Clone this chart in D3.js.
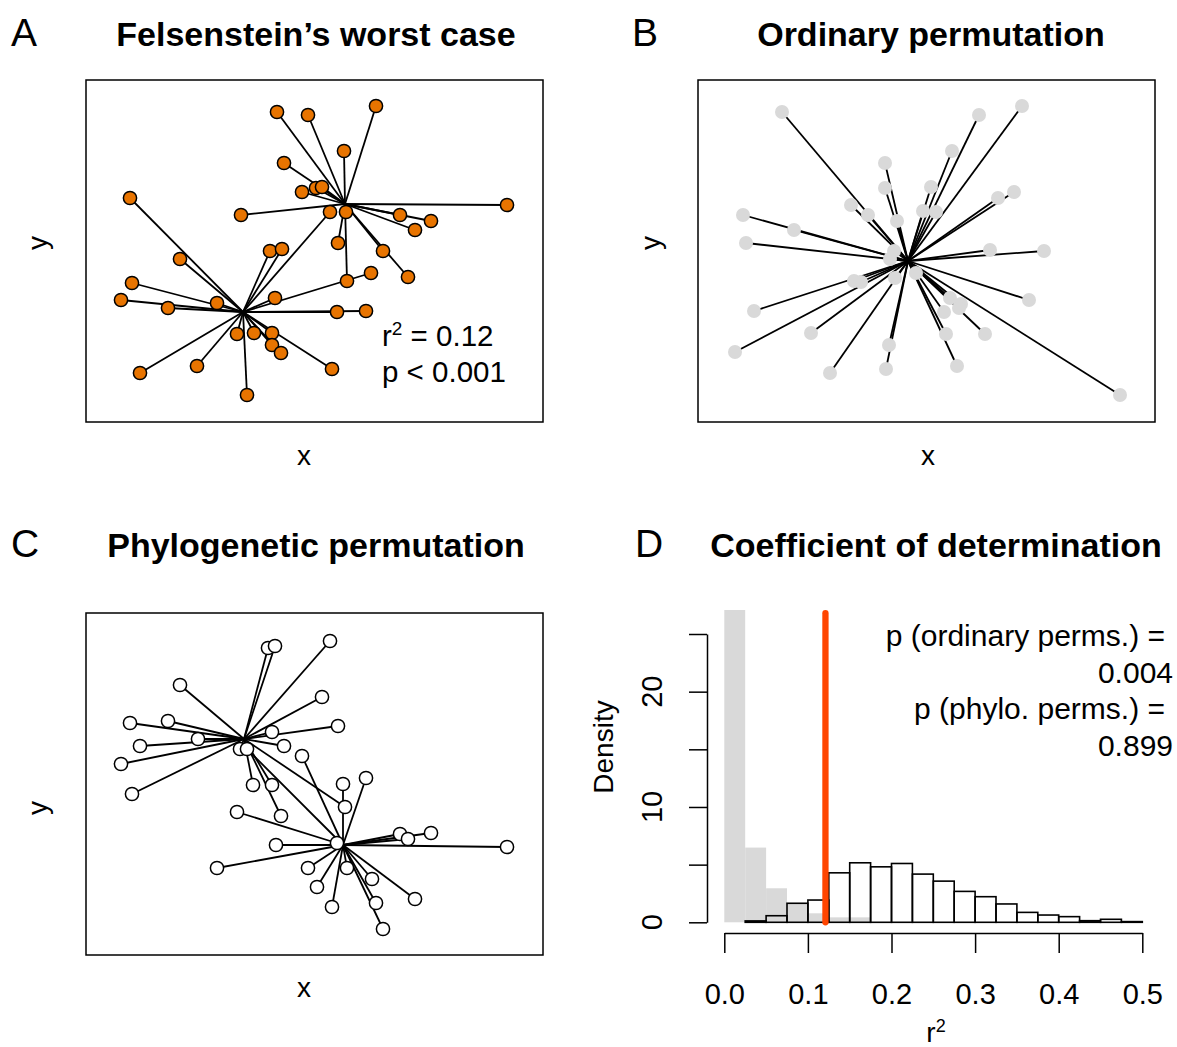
<!DOCTYPE html>
<html>
<head>
<meta charset="utf-8">
<script src="https://cdn.jsdelivr.net/npm/d3@7"></script>
<style>
  body { margin: 0; background: #fff; }
  text { font-family: "Liberation Sans", Arial, Helvetica, sans-serif; fill: #000; }
</style>
</head>
<body>
<div id="chart"></div>
<script>
// ---- panel A: Felsenstein's worst case (two clades, star trees) ----
var aHubX = [26.0, 15.8];
var aHubY = [22.0, 11.2];
var aX = [19.2,22.3,29.1,25.9,19.9,21.7,23.1,23.7,15.6,26.1,42.2,31.5,34.6,33.0,25.3,29.8,32.3,26.2,
          24.5,4.5,9.5,4.7,3.6,8.3,13.2,19.0,18.5,19.7,25.2,28.1,28.6,15.2,16.9,18.7,18.7,19.6,24.7,11.2,5.5,16.2];
var aY = [31.2,30.9,31.8,27.3,26.1,23.2,23.6,23.7,20.9,21.2,21.9,20.9,20.3,19.4,18.1,17.3,14.7,14.3,
          21.2,22.6,16.5,14.1,12.4,11.6,12.1,12.6,17.3,17.5,11.2,11.3,15.1,9.0,9.1,9.1,7.9,7.1,5.5,5.8,5.1,2.9];
var aClade = [0,0,0,0,0,0,0,0,0,0,0,0,0,0,0,0,0,0,
              1,1,1,1,1,1,1,1,1,1,1,1,1,1,1,1,1,1,1,1,1,1];

// ---- panel B: ordinary permutation (one star) ----
var bHubX = [21.1];
var bHubY = [16.3];
var bX = [8.5,28.2,32.5,25.5,18.8,18.8,23.4,30.1,31.7,15.4,17.1,20.0,22.6,23.9,4.6,9.7,4.9,29.3,34.7,19.7,
          19.3,21.9,19.8,15.7,16.4,33.2,25.3,26.4,26.2,24.7,5.7,11.4,3.8,24.9,28.8,19.2,18.9,13.3,26.0,42.3];
var bY = [31.2,30.9,31.8,27.3,26.1,23.6,23.7,22.6,23.2,21.9,20.9,20.3,21.3,21.2,20.9,19.4,18.1,17.4,17.3,17.3,
          16.5,15.1,14.6,14.3,14.2,12.4,12.6,12.0,11.6,11.2,11.3,9.1,7.2,9.0,9.0,7.9,5.5,5.1,5.8,2.9];
var bClade = bX.map(function(){ return 0; });

// ---- panel C: phylogenetic permutation ----
var cHubX = [15.9, 25.8];
var cHubY = [21.8, 11.2];
var cX = [18.3,19.0,24.5,9.5,23.7,25.3,4.5,8.3,11.3,5.5,3.6,4.7,18.7,15.5,19.9,16.8,18.7,19.6,26.0,
          16.2,21.7,25.8,28.1,15.2,19.1,25.2,31.5,32.3,34.6,42.2,13.2,22.3,26.2,28.7,23.2,24.7,29.1,29.8,33.0];
var cY = [30.9,31.1,31.6,27.2,26.0,23.1,23.4,23.6,21.8,21.1,19.3,16.3,22.5,20.8,21.1,17.2,17.2,14.1,15.0,
          20.8,20.1,17.3,17.9,14.5,11.2,11.4,12.3,11.8,12.4,11.0,8.9,8.9,8.9,7.8,7.0,5.0,5.4,2.8,5.8];
var cClade = [0,0,0,0,0,0,0,0,0,0,0,0,0,0,0,0,0,0,0,
              1,1,1,1,1,1,1,1,1,1,1,1,1,1,1,1,1,1,1,1];

// ---- panel D: r^2 histograms (bin width 0.025 starting at 0) ----
var binWidth = 0.025;
var phyloDensity = [0,0.12,0.57,1.65,1.93,4.29,5.16,4.81,5.1,4.18,3.57,2.68,2.22,1.59,0.86,0.63,0.49,0.14,0.26,0.06,0];
var ordinaryDensity = [27.4,6.48,2.95,1.6,0.78,0.43,0.43];
var observedR2 = 0.121;
var yTicks = [0,5,10,15,20,25];
var xTicks = [0,0.1,0.2,0.3,0.4,0.5];
var pLines = ["p (ordinary perms.) =", "0.004", "p (phylo. perms.) =", "0.899"];

var svg = d3.select("#chart").append("svg")
  .attr("width", 1177)
  .attr("height", 1047);

// scales for the scatter panels (plot units, no axes drawn)
var sx = d3.scaleLinear().domain([0, 46]).range([0, 460]);
var sy = d3.scaleLinear().domain([0, 34.5]).range([345, 0]);

function drawStar(ox, oy, xs, ys, clade, hx, hy, fill, stroke) {
  var g = svg.append("g").attr("transform", "translate(" + ox + "," + oy + ")");

  g.append("rect")
    .attr("x", 1).attr("y", 1)
    .attr("width", 457).attr("height", 342)
    .attr("fill", "none").attr("stroke", "#000").attr("stroke-width", 1.5);

  var idx = d3.range(xs.length);

  // branch from each tip to its clade centre
  g.selectAll("line.br").data(idx).enter().append("line")
    .attr("x1", function(i){ return sx(hx[clade[i]]); })
    .attr("y1", function(i){ return sy(hy[clade[i]]); })
    .attr("x2", function(i){ return sx(xs[i]); })
    .attr("y2", function(i){ return sy(ys[i]); })
    .attr("stroke", "#000")
    .attr("stroke-width", 1.8);

  g.selectAll("circle").data(idx).enter().append("circle")
    .attr("cx", function(i){ return sx(xs[i]); })
    .attr("cy", function(i){ return sy(ys[i]); })
    .attr("r", stroke ? 6.6 : 7)
    .attr("fill", fill)
    .attr("stroke", stroke ? "#000" : "none")
    .attr("stroke-width", 1.5);
}

drawStar(85, 79, aX, aY, aClade, aHubX, aHubY, "#E87400", true);
drawStar(697, 79, bX, bY, bClade, bHubX, bHubY, "#D9D9D9", false);
drawStar(85, 612, cX, cY, cClade, cHubX, cHubY, "#FFFFFF", true);

// titles and panel letters
var titles = [
  {t: "Felsenstein\u2019s worst case", x: 316, y: 46, l: "A", lx: 11},
  {t: "Ordinary permutation", x: 931, y: 46, l: "B", lx: 632},
  {t: "Phylogenetic permutation", x: 316, y: 557, l: "C", lx: 11},
  {t: "Coefficient of determination", x: 936, y: 557, l: "D", lx: 635}
];
titles.forEach(function(d){
  svg.append("text").attr("x", d.x).attr("y", d.y)
    .attr("text-anchor", "middle")
    .style("font-size", "34px").style("font-weight", "bold")
    .text(d.t);
  svg.append("text").attr("x", d.lx).attr("y", d.y)
    .style("font-size", "39px")
    .text(d.l);
});

// x / y axis labels on scatter panels
[[304, 465, 47, 243], [928, 465, 660, 243], [304, 997, 47, 808]].forEach(function(p){
  svg.append("text").attr("x", p[0]).attr("y", p[1])
    .attr("text-anchor", "middle").style("font-size", "28px").text("x");
  svg.append("text").attr("transform", "translate(" + p[2] + "," + p[3] + ") rotate(-90)")
    .attr("text-anchor", "middle").style("font-size", "28px").text("y");
});

// r2 annotation on A
var ann = svg.append("text").attr("x", 382).attr("y", 346).style("font-size", "29.5px");
ann.append("tspan").text("r");
ann.append("tspan").attr("dy", -11).style("font-size", "19px").text("2");
ann.append("tspan").attr("dy", 11).text(" = 0.12");
svg.append("text").attr("x", 382).attr("y", 382).style("font-size", "29.5px").text("p < 0.001");

// ---- histogram panel ----
var hx = d3.scaleLinear().domain([0, 0.5]).range([724.3, 1142.3]);
var hy = d3.scaleLinear().domain([0, 25]).range([922.3, 634]);

svg.append("clipPath").attr("id", "plotclip")
  .append("rect").attr("x", 700).attr("y", 610).attr("width", 470).attr("height", 330);

var hg = svg.append("g").attr("clip-path", "url(#plotclip)");

hg.selectAll("rect.ord").data(ordinaryDensity).enter().append("rect")
  .attr("x", function(d, i){ return hx(i * binWidth); })
  .attr("width", function(d, i){ return hx((i + 1) * binWidth) - hx(i * binWidth); })
  .attr("y", function(d){ return hy(d); })
  .attr("height", function(d){ return hy(0) - hy(d); })
  .attr("fill", "#D9D9D9");

hg.selectAll("rect.phy").data(phyloDensity).enter().append("rect")
  .attr("x", function(d, i){ return hx(i * binWidth); })
  .attr("width", function(d, i){ return hx((i + 1) * binWidth) - hx(i * binWidth); })
  .attr("y", function(d){ return hy(d); })
  .attr("height", function(d){ return hy(0) - hy(d); })
  .attr("fill", "none")
  .attr("stroke", "#000")
  .attr("stroke-width", 1.6);

svg.append("line")
  .attr("x1", hx(observedR2)).attr("x2", hx(observedR2))
  .attr("y1", hy(0)).attr("y2", hy(26.8))
  .attr("stroke", "#FF4500")
  .attr("stroke-width", 6.3)
  .attr("stroke-linecap", "round");

// y axis
var yAxis = svg.append("g")
  .attr("transform", "translate(707,0)")
  .call(d3.axisLeft(hy).tickValues(yTicks).tickSize(18).tickSizeOuter(0).tickFormat(""));
yAxis.selectAll("path, line").attr("stroke", "#000").attr("stroke-width", 1.5);

svg.selectAll("text.ylab").data(yTicks.filter(function(d){ return d % 10 === 0; })).enter().append("text")
  .attr("transform", function(d){ return "translate(662," + hy(d) + ") rotate(-90)"; })
  .attr("text-anchor", "middle")
  .style("font-size", "29px")
  .text(function(d){ return d; });

svg.append("text").attr("transform", "translate(613,747) rotate(-90)")
  .attr("text-anchor", "middle").style("font-size", "28px").text("Density");

// x axis
var xAxis = svg.append("g")
  .attr("transform", "translate(0,933)")
  .call(d3.axisBottom(hx).tickValues(xTicks).tickSize(20).tickSizeOuter(0).tickPadding(30)
    .tickFormat(d3.format(".1f")));
xAxis.selectAll("path, line").attr("stroke", "#000").attr("stroke-width", 1.5);
xAxis.selectAll("text").style("font-size", "29px")
  .style("font-family", "'Liberation Sans', Arial, sans-serif").attr("fill", "#000");

var xl = svg.append("text").attr("x", 936).attr("y", 1042)
  .attr("text-anchor", "middle").style("font-size", "28px");
xl.append("tspan").text("r");
xl.append("tspan").attr("dy", -10).style("font-size", "18px").text("2");

// p-value text
svg.selectAll("text.pv").data(pLines).enter().append("text")
  .attr("x", function(d, i){ return i % 2 === 0 ? 1165 : 1173; })
  .attr("y", function(d, i){ return 646 + i * 36.5; })
  .attr("text-anchor", "end")
  .style("font-size", "30px")
  .text(function(d){ return d; });
</script>
</body>
</html>
